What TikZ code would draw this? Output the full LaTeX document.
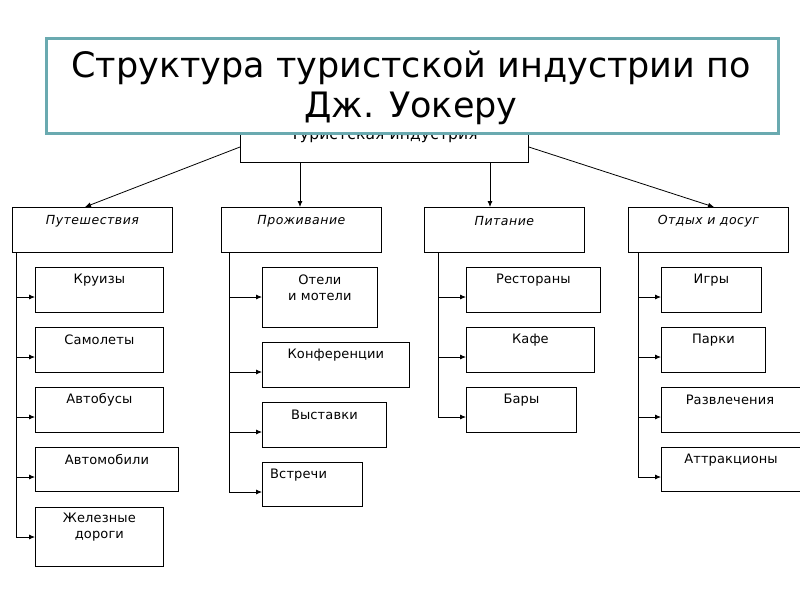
\documentclass[tikz,border=0pt]{standalone}
\usepackage{fontspec}
\setmainfont{DejaVu Sans}
\newfontfamily\dvs[LetterSpace=1]{DejaVu Sans}
\newfontfamily\dvi[LetterSpace=4]{DejaVu Sans Oblique}
\usetikzlibrary{arrows.meta}
\definecolor{teal1}{HTML}{6AAAB0}
\tikzset{
  box/.style={draw=black, line width=0.8pt, fill=white, inner sep=0pt, rectangle},
  lbl/.style={font=\dvs\fontsize{13}{16}\selectfont, align=center, inner sep=0pt},
  clbl/.style={font=\dvi\fontsize{12.5}{16}\selectfont, align=center, inner sep=0pt},
  arr/.style={line width=0.8pt, -{Latex[length=6pt,width=5pt]}},
  titlebox/.style={draw=teal1, line width=2.5pt, fill=white, inner sep=0pt, rectangle}
}
\newcommand\bx[5]{\node[box,anchor=north west,minimum width={(#4-#2)*1pt},minimum height={(#5-#3)*1pt}] (#1) at (#2,#3) {};}
\begin{document}
\begin{tikzpicture}[x=1pt,y=-1pt]
\useasboundingbox (0,0) rectangle (800,600);
\fill[white] (0,0) rectangle (800,600);
% root
\bx{root}{240}{112}{528}{162}
\node[lbl, font=\dvs\fontsize{15.5}{18}\selectfont, anchor=base] (root-t) at (384,139) {Туристская индустрия};
% categories
\bx{put}{12}{207}{172}{252}
\bx{pro}{221}{207}{381}{252}
\bx{pit}{424}{207}{584}{252}
\bx{otd}{628}{207}{788}{252}
\node[clbl] (put-t) at ([yshift=-14pt]put.north) {Путешествия};
\node[clbl] (pro-t) at ([yshift=-14pt]pro.north) {Проживание};
\node[clbl] (pit-t) at ([yshift=-14pt]pit.north) {Питание};
\node[clbl] (otd-t) at ([yshift=-14pt]otd.north) {Отдых и досуг};
% root arrows
\draw[arr] ([yshift=-35pt]root.north west) -- ([xshift=73pt]put.north west);
\draw[arr] ([xshift=60pt]root.south west) -- ([xshift=79pt]pro.north west);
\draw[arr] ([xshift=250pt]root.south west) -- ([xshift=66pt]pit.north west);
\draw[arr] ([yshift=-35pt]root.north east) -- ([xshift=86pt]otd.north west);
% Путешествия
\bx{kr}{35}{267}{163}{312}
\bx{sam}{35}{327}{163}{372}
\bx{avb}{35}{387}{163}{432}
\bx{avm}{35}{447}{178}{491}
\bx{zd}{35}{507}{163}{566}
\node[lbl] (kr-t) at ([yshift=-13pt]kr.north) {Круизы};
\node[lbl] (sam-t) at ([yshift=-13pt]sam.north) {Самолеты};
\node[lbl] (avb-t) at ([yshift=-13pt]avb.north) {Автобусы};
\node[lbl] (avm-t) at ([yshift=-13pt]avm.north) {Автомобили};
\node[lbl] (zd-t) at ([yshift=-20.5pt]zd.north) {Железные\\дороги};
\foreach \b in {kr,sam,avb,avm,zd}
  \draw[arr] ([xshift=4pt]put.south west) |- ([yshift=-30pt]\b.north west);
% Проживание
\bx{ot}{262}{267}{377}{327}
\bx{kon}{262}{342}{409}{387}
\bx{vys}{262}{402}{386}{447}
\bx{vst}{262}{462}{362}{506}
\node[lbl] (ot-t) at ([yshift=-21pt]ot.north) {Отели\\и мотели};
\node[lbl] (kon-t) at ([yshift=-13pt]kon.north) {Конференции};
\node[lbl] (vys-t) at ([yshift=-13pt]vys.north) {Выставки};
\node[lbl, anchor=west] (vst-t) at ([xshift=8pt,yshift=-13pt]vst.north west) {Встречи};
\foreach \b in {ot,kon,vys,vst}
  \draw[arr] ([xshift=8pt]pro.south west) |- ([yshift=-30pt]\b.north west);
% Питание
\bx{res}{466}{267}{600}{312}
\bx{kafe}{466}{327}{594}{372}
\bx{bar}{466}{387}{576}{432}
\node[lbl] (res-t) at ([yshift=-13pt]res.north) {Рестораны};
\node[lbl] (kafe-t) at ([yshift=-13pt]kafe.north) {Кафе};
\node[lbl] (bar-t) at ([yshift=-13pt]bar.north) {Бары};
\foreach \b in {res,kafe,bar}
  \draw[arr] ([xshift=14pt]pit.south west) |- ([yshift=-30pt]\b.north west);
% Отдых и досуг
\bx{igr}{661}{267}{761}{312}
\bx{park}{661}{327}{765}{372}
\bx{razv}{661}{387}{803}{432}
\bx{attr}{661}{447}{803}{491}
\node[lbl] (igr-t) at ([yshift=-13pt]igr.north) {Игры};
\node[lbl] (park-t) at ([yshift=-13pt]park.north) {Парки};
\node[lbl] (razv-t) at (730,400) {Развлечения};
\node[lbl] (attr-t) at (731,460) {Аттракционы};
\foreach \b in {igr,park,razv,attr}
  \draw[arr] ([xshift=10pt]otd.south west) |- ([yshift=-30pt]\b.north west);
% title
\node[titlebox, anchor=north west, minimum width=732pt, minimum height=95pt] (title) at (45,37) {};
\node[font=\fontsize{35}{40}\selectfont, align=center, anchor=base, inner sep=0pt] (title-t) at (411,117) {Структура туристской индустрии по\\Дж. Уокеру};
\end{tikzpicture}
\end{document}
